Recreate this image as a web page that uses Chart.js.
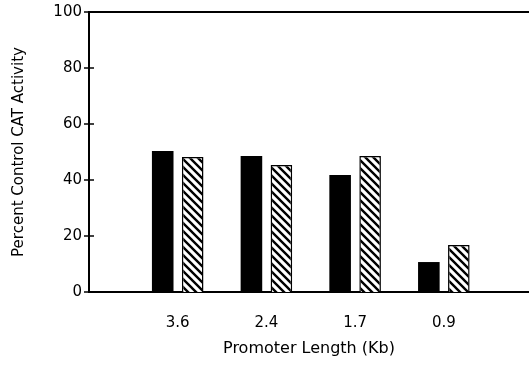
<!DOCTYPE html>
<html>
<head>
<meta charset="utf-8">
<script src="https://cdn.jsdelivr.net/npm/chart.js@4/dist/chart.umd.min.js"></script>
<style>
html,body{margin:0;padding:0;background:#fff;}
#wrap{width:529px;height:370px;position:relative;}
</style>
</head>
<body>
<div id="wrap"><canvas id="c" width="529" height="370"></canvas></div>
<script>
// ---- data ----
const categories = ['3.6', '2.4', '1.7', '0.9'];
const solidValues = [50.4, 48.6, 41.8, 10.7];
const hatchedValues = [48.2, 45.4, 48.6, 16.8];
const yTicks = [0, 20, 40, 60, 80, 100];
const xTitle = 'Promoter Length (Kb)';
const yTitle = 'Percent Control CAT Activity';

function makeHatch() {
  const n = 8;
  const p = document.createElement('canvas');
  p.width = n; p.height = n;
  const g = p.getContext('2d');
  g.fillStyle = '#fff';
  g.fillRect(0, 0, n, n);
  g.strokeStyle = '#000';
  g.lineWidth = 2.4;
  g.beginPath();
  for (let k = -1; k <= 1; k++) {
    g.moveTo(-1, k * n - 1);
    g.lineTo(n + 1, n + k * n + 1);
  }
  g.stroke();
  return g.createPattern(p, 'repeat');
}

const ctx = document.getElementById('c').getContext('2d');
const hatch = makeHatch();

const innerTicks = {
  id: 'innerTicks',
  afterDatasetsDraw(chart) {
    const y = chart.scales.y;
    const c = chart.ctx;
    const left = chart.chartArea.left;
    c.save();
    c.strokeStyle = '#000';
    c.lineWidth = 1.5;
    yTicks.forEach(v => {
      if (v === 0 || v === 100) return;
      const py = y.getPixelForValue(v);
      c.beginPath();
      c.moveTo(left, py);
      c.lineTo(left + 5, py);
      c.stroke();
    });
    c.restore();
  }
};

const font = { family: 'DejaVu Sans', size: 15 };
const xTitleFont = { family: 'DejaVu Sans', size: 16 };

new Chart(ctx, {
  type: 'bar',
  data: {
    datasets: [
      {
        data: solidValues.map((v, i) => ({ x: i + 1, y: v })),
        backgroundColor: '#000',
        borderColor: '#000',
        borderWidth: 0,
        categoryPercentage: 0.676,
        barPercentage: 0.72
      },
      {
        data: hatchedValues.map((v, i) => ({ x: i + 1, y: v })),
        backgroundColor: hatch,
        borderColor: '#000',
        borderWidth: 1.5,
        categoryPercentage: 0.676,
        barPercentage: 0.72
      }
    ]
  },
  options: {
    responsive: false,
    animation: false,
    layout: { padding: { top: 12, right: 0, left: 0, bottom: 0 } },
    plugins: { legend: { display: false }, tooltip: { enabled: false } },
    scales: {
      x: {
        type: 'linear',
        offset: false,
        min: 0,
        max: 4.96,
        afterBuildTicks(scale) {
          scale.ticks = categories.map((c, i) => ({ value: i + 1 }));
        },
        afterFit(scale) { scale.height = 78; },
        grid: { display: false, offset: false, drawTicks: false, tickLength: 0 },
        border: { display: true, color: '#000', width: 2 },
        ticks: {
          color: '#000',
          font: font,
          padding: 22,
          maxRotation: 0,
          autoSkip: false,
          callback: (v) => categories[Math.round(v) - 1] || ''
        },
        title: {
          display: true,
          text: xTitle,
          color: '#000',
          font: xTitleFont,
          padding: { top: 0, bottom: 12 }
        }
      },
      y: {
        min: 0,
        max: 100,
        afterBuildTicks(scale) {
          scale.ticks = yTicks.map(v => ({ value: v }));
        },
        afterFit(scale) { scale.width = 89; },
        grid: {
          drawTicks: true,
          tickLength: 5,
          tickColor: '#000',
          tickWidth: 1.5,
          lineWidth: (c) => (c.tick && c.tick.value === 100 ? 2 : 0),
          color: (c) => (c.tick && c.tick.value === 100 ? '#000' : 'rgba(0,0,0,0)')
        },
        border: { display: true, color: '#000', width: 2 },
        ticks: {
          color: '#000',
          font: font,
          padding: 2
        },
        title: {
          display: true,
          text: yTitle,
          color: '#000',
          font: font,
          padding: { top: 10, bottom: 0 }
        }
      }
    }
  },
  plugins: [innerTicks]
});
</script>
</body>
</html>
